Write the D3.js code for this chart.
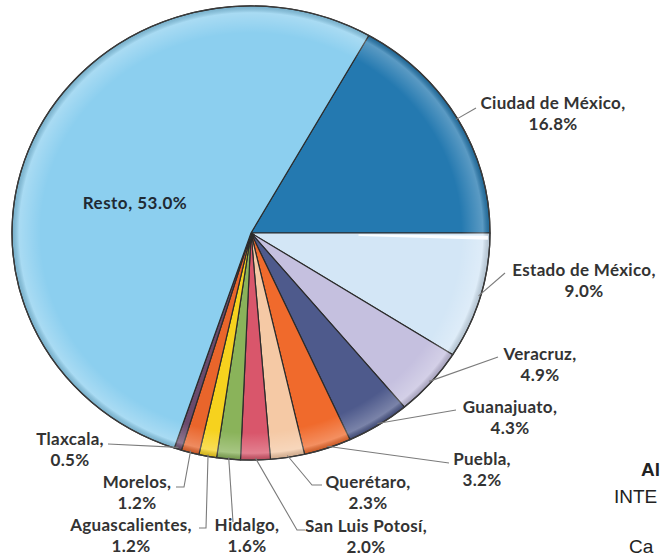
<!DOCTYPE html>
<html>
<head>
<meta charset="utf-8">
<script src="https://cdn.jsdelivr.net/npm/d3@7"></script>
<style>
  body { margin: 0; background: #fff; }
  svg { display: block; }
</style>
</head>
<body>
<div id="chart"></div>
<script>
// data, clockwise from Ciudad de México
const estados = ["Ciudad de México", "Estado de México", "Veracruz", "Guanajuato", "Puebla",
  "Querétaro", "San Luis Potosí", "Hidalgo", "Aguascalientes", "Morelos", "Tlaxcala", "Resto"]
const porcentajes = [16.8, 9.0, 4.9, 4.3, 3.2, 2.3, 2.0, 1.6, 1.2, 1.2, 0.5, 53.0]
const colores = ["#2479b0", "#d3e6f6", "#c5c0df", "#4e5a8c", "#f06a2c", "#f5c9a5",
  "#d9566b", "#8ab35a", "#f6d21e", "#e9652b", "#6a4a6c", "#8ccfef"]

// label layout: centre x, first line y, leader bend points (after the arc point)
const etiquetas = {
  "Ciudad de México": {x: 553, y: 109, pts: [[476, 108]]},
  "Estado de México": {x: 584, y: 276, pts: [[505, 273]]},
  "Veracruz": {x: 540, y: 360, pts: [[498, 357]]},
  "Guanajuato": {x: 510, y: 413, pts: [[456, 410]]},
  "Puebla": {x: 482, y: 465, pts: [[449, 463]]},
  "Querétaro": {x: 368, y: 488, pts: [[312, 485], [322, 485]]},
  "San Luis Potosí": {x: 366, y: 532, pts: [[297, 530], [305, 530]]},
  "Hidalgo": {x: 247, y: 531, pts: [[233, 522]]},
  "Aguascalientes": {x: 131, y: 531, pts: [[206, 528], [199, 528]]},
  "Morelos": {x: 137, y: 488, pts: [[184, 487], [176, 487]]},
  "Tlaxcala": {x: 70, y: 445, pts: [[108, 444]]}
}

const width = 662, height = 556
const cx = 251, cy = 233, radius = 239, squash = 0.95

const svg = d3.select("#chart")
  .append("svg")
    .attr("width", width)
    .attr("height", height)
    .style("font-family", "Lato, 'Open Sans', sans-serif")

svg.append("rect").attr("width", width).attr("height", height).attr("fill", "#fff")

const datos = estados.map((e, i) => ({estado: e, valor: porcentajes[i], color: colores[i]}))

// Ciudad de México ends at 3 o'clock
const inicio = Math.PI / 2 - porcentajes[0] / 100 * 2 * Math.PI
const pie = d3.pie()
  .sort(null)
  .value(d => d.valor)
  .startAngle(inicio)
  .endAngle(inicio + 2 * Math.PI)

const arc = d3.arc().innerRadius(0).outerRadius(radius)
const arcos = pie(datos)

// soft rim shading
const defs = svg.append("defs")
const grad = defs.append("radialGradient").attr("id", "rim")
  .attr("cx", "50%").attr("cy", "50%").attr("r", "50%")
grad.append("stop").attr("offset", "88%").attr("stop-color", "#fff").attr("stop-opacity", 0)
grad.append("stop").attr("offset", "97%").attr("stop-color", "#fff").attr("stop-opacity", 0.25)
grad.append("stop").attr("offset", "100%").attr("stop-color", "#000").attr("stop-opacity", 0.15)

const g = svg.append("g")
  .attr("transform", `translate(${cx},${cy}) scale(1,${squash})`)

g.selectAll("path.slice")
  .data(arcos)
  .join("path")
    .attr("class", "slice")
    .attr("d", arc)
    .attr("fill", d => d.data.color)
    .attr("stroke", "#2b2b2b")
    .attr("stroke-width", 1.2)
    .attr("stroke-linejoin", "round")

g.append("circle")
  .attr("r", radius)
  .attr("fill", "url(#rim)")
  .attr("stroke", "#3a3a3a")
  .attr("stroke-width", 1.3)

// white highlight along top edge of Estado de México
const em = arcos[1]
g.append("path")
  .attr("d", d3.arc().innerRadius(radius * 0.45).outerRadius(radius - 2)
    .startAngle(em.startAngle + 0.012).endAngle(em.startAngle + 0.03)())
  .attr("fill", "#fff")
  .attr("opacity", 0.9)

// point on rim
function borde(a, extra) {
  const r = radius + extra
  return [cx + r * Math.sin(a), cy - r * Math.cos(a) * squash]
}

const linea = d3.line()

arcos.forEach(d => {
  const lab = etiquetas[d.data.estado]
  if (!lab) return
  const mid = (d.startAngle + d.endAngle) / 2
  const p0 = borde(mid, -2)
  svg.append("path")
    .attr("d", linea([p0, ...lab.pts]))
    .attr("fill", "none")
    .attr("stroke", "#7b7b7b")
    .attr("stroke-width", 1.1)

  const t = svg.append("text")
    .attr("x", lab.x)
    .attr("y", lab.y)
    .attr("text-anchor", "middle")
    .attr("font-size", 17)
    .attr("font-weight", "bold")
    .attr("letter-spacing", 0.3)
    .attr("fill", "#333")
  t.append("tspan").attr("x", lab.x).text(d.data.estado + ",")
  t.append("tspan").attr("x", lab.x).attr("dy", 21).text(d3.format(".1f")(d.data.valor) + "%")
})

// Resto label inside its slice
const resto = arcos[arcos.length - 1]
svg.append("text")
  .attr("x", 135)
  .attr("y", 209)
  .attr("text-anchor", "middle")
  .attr("font-size", 17)
  .attr("font-weight", "bold")
  .attr("letter-spacing", 0.5)
  .attr("fill", "#1f2a33")
  .text(resto.data.estado + ", " + d3.format(".1f")(resto.data.valor) + "%")

// cut-off text from neighbouring page content
const recorte = [["Al", 641, 476, "bold"], ["INTE", 614, 503, "normal"], ["Ca", 629, 553, "normal"]]
svg.selectAll("text.recorte")
  .data(recorte)
  .join("text")
    .attr("class", "recorte")
    .attr("x", d => d[1])
    .attr("y", d => d[2])
    .attr("font-family", "'Liberation Sans', Arial, sans-serif")
    .attr("font-size", 19)
    .attr("font-weight", d => d[3])
    .attr("fill", "#222")
    .text(d => d[0])
</script>
</body>
</html>
